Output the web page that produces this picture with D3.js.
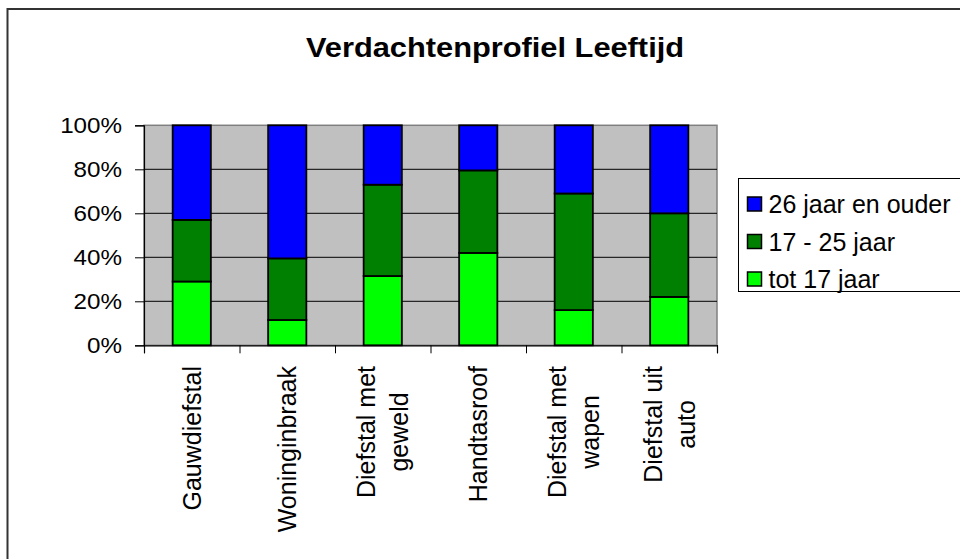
<!DOCTYPE html>
<html>
<head>
<meta charset="utf-8">
<script src="https://cdn.jsdelivr.net/npm/d3@7"></script>
<style>
  body { margin: 0; background: #fff; }
  text { font-family: "Liberation Sans", Arial, sans-serif; fill: #000; }
</style>
</head>
<body>
<svg id="chart"></svg>
<script>
const width = 960;
const height = 559;

// data
const categories = ["Gauwdiefstal", "Woninginbraak", "Diefstal met geweld", "Handtasroof", "Diefstal met wapen", "Diefstal uit auto"];
const categoryLines = [["Gauwdiefstal"], ["Woninginbraak"], ["Diefstal met", "geweld"], ["Handtasroof"], ["Diefstal met", "wapen"], ["Diefstal uit", "auto"]];
const seriesNames = ["tot 17 jaar", "17 - 25 jaar", "26 jaar en ouder"];
const tot17 = [29, 11.5, 31.5, 42, 16, 22];
const age17to25 = [28, 28, 41.5, 37.5, 53, 38];
const age26plus = [43, 60.5, 27, 20.5, 31, 40];
const yTicks = [0, 0.2, 0.4, 0.6, 0.8, 1];
const colors = ["#00FF00", "#008000", "#0000FF"];

const svg = d3.select("#chart")
  .attr("width", width)
  .attr("height", height);

// outer chart border
svg.append("rect")
  .attr("x", 7.5).attr("y", 9)
  .attr("width", width + 20).attr("height", height + 20)
  .attr("fill", "#fff")
  .attr("stroke", "#333")
  .attr("stroke-width", 2);

svg.append("text")
  .attr("transform", "translate(495,57) scale(1.1,1)")
  .attr("text-anchor", "middle")
  .attr("font-size", "28px")
  .attr("font-weight", "bold")
  .text("Verdachtenprofiel Leeftijd");

const rows = categories.map((c, i) => ({
  cat: c,
  [seriesNames[0]]: tot17[i],
  [seriesNames[1]]: age17to25[i],
  [seriesNames[2]]: age26plus[i]
}));

const stack = d3.stack().keys(seriesNames).offset(d3.stackOffsetExpand);
const stacked = stack(rows);

const x = d3.scaleBand().domain(categories).range([144, 717]);
const y = d3.scaleLinear().domain([0, 1]).range([345.3, 125.3]);

// plot area
svg.append("rect")
  .attr("x", x.range()[0]).attr("y", y(1))
  .attr("width", x.range()[1] - x.range()[0])
  .attr("height", y(0) - y(1))
  .attr("fill", "#C0C0C0")
  .attr("stroke", "#808080")
  .attr("stroke-width", 1.5);

svg.append("g")
  .selectAll("line")
  .data(yTicks.slice(1, -1))
  .join("line")
  .attr("x1", x.range()[0]).attr("x2", x.range()[1])
  .attr("y1", d => y(d)).attr("y2", d => y(d))
  .attr("stroke", "#000")
  .attr("stroke-width", 1);

// bars
const barW = x.bandwidth() * 0.4;
svg.append("g")
  .selectAll("g")
  .data(stacked)
  .join("g")
  .attr("fill", (d, i) => colors[i])
  .selectAll("rect")
  .data(d => d)
  .join("rect")
  .attr("x", d => x(d.data.cat) + (x.bandwidth() - barW) / 2)
  .attr("y", d => y(d[1]))
  .attr("width", barW)
  .attr("height", d => y(d[0]) - y(d[1]))
  .attr("stroke", "#000")
  .attr("stroke-width", 1.8);

// y axis
const yAxis = svg.append("g")
  .attr("transform", `translate(${x.range()[0]},0)`)
  .call(d3.axisLeft(y).tickValues(yTicks).tickFormat(d3.format(".0%")).tickSize(9).tickPadding(13));
yAxis.select(".domain").attr("stroke", "#000").attr("stroke-width", 1.2);
yAxis.selectAll(".tick line").attr("stroke", "#000");
yAxis.selectAll(".tick text")
  .attr("font-size", "22px")
  .attr("font-family", "Liberation Sans, Arial, sans-serif")
  .attr("fill", "#000")
  .each(function () {
    const t = d3.select(this);
    t.attr("transform", `translate(${t.attr("x")},0) scale(1.1,1) translate(${-t.attr("x")},0)`);
  });

// x axis ticks at category boundaries
const xb = d3.scaleLinear().domain([0, categories.length]).range(x.range());
const xAxis = svg.append("g")
  .attr("transform", `translate(0,${y(0)})`)
  .call(d3.axisBottom(xb).tickValues(d3.range(categories.length + 1)).tickFormat("").tickSize(8));
xAxis.select(".domain").attr("stroke", "#000").attr("stroke-width", 1.2);
xAxis.selectAll(".tick line").attr("stroke", "#000");

// category labels
const lineGap = 33;
svg.append("g")
  .selectAll("text")
  .data(categories)
  .join("text")
  .attr("transform", d => `translate(${x(d) + x.bandwidth() / 2 + 9},366) rotate(-90)`)
  .attr("text-anchor", "end")
  .attr("font-size", "25px")
  .each(function (d, i) {
    const lines = categoryLines[i];
    const t = d3.select(this);
    lines.forEach((l, j) => {
      t.append("tspan")
        .attr("x", 0)
        .attr("y", (j - (lines.length - 1) / 2) * lineGap)
        .attr("class", "ln")
        .text(l);
    });
  });

// centre the lines of multi-line labels on the widest one
svg.selectAll("text").filter(function () { return this.querySelectorAll("tspan.ln").length > 1; })
  .each(function () {
    const spans = Array.from(this.querySelectorAll("tspan.ln"));
    const ws = spans.map(s => s.getComputedTextLength());
    const maxW = d3.max(ws);
    spans.forEach((s, j) => s.setAttribute("x", -(maxW - ws[j]) / 2));
  });

// legend
const legend = svg.append("g").attr("transform", "translate(738.5,178.5)");
legend.append("rect")
  .attr("width", 300).attr("height", 113)
  .attr("fill", "#fff")
  .attr("stroke", "#000")
  .attr("stroke-width", 1);

const legendOrder = seriesNames.slice().reverse();
const ly = d3.scalePoint().domain(legendOrder).range([25.5, 100.5]);
const items = legend.selectAll("g.item")
  .data(legendOrder)
  .join("g")
  .attr("class", "item")
  .attr("transform", d => `translate(0,${ly(d)})`);
items.append("rect")
  .attr("x", 9).attr("y", -7)
  .attr("width", 14).attr("height", 14)
  .attr("fill", d => colors[seriesNames.indexOf(d)])
  .attr("stroke", "#000")
  .attr("stroke-width", 1.5);
items.append("text")
  .attr("x", 30)
  .attr("dy", "0.36em")
  .attr("font-size", "25px")
  .text(d => d);
</script>
</body>
</html>
